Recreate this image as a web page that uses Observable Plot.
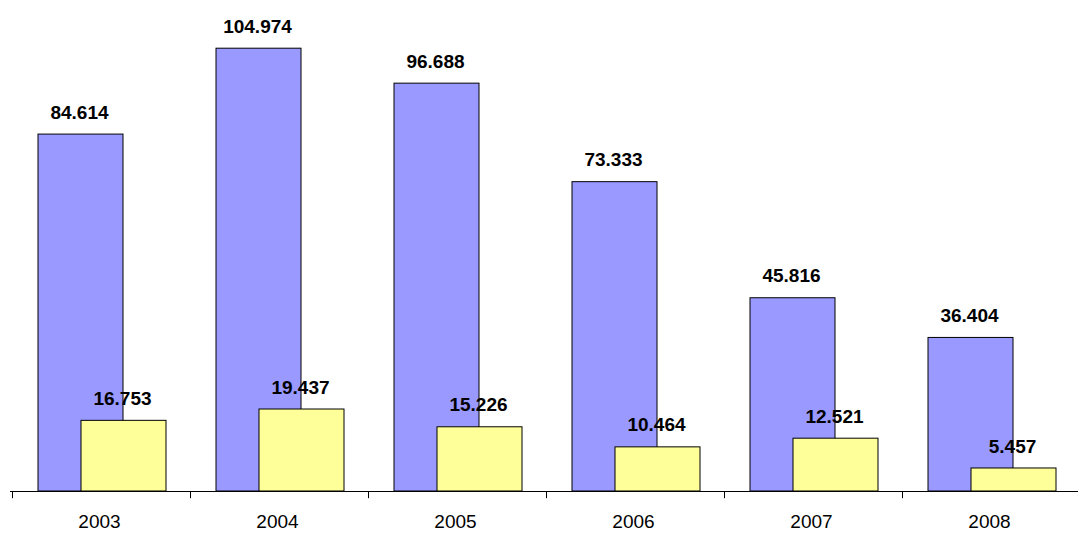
<!DOCTYPE html>
<html><head><meta charset="utf-8">
<script src="https://cdn.jsdelivr.net/npm/d3@7"></script>
<script src="https://cdn.jsdelivr.net/npm/@observablehq/plot@0.6"></script>
<style>body{margin:0;background:#fff;font-family:"Liberation Sans",Arial,sans-serif}</style>
</head><body><div id="chart"></div>
<script>
const years = ["2003","2004","2005","2006","2007","2008"]
const serieA = [84614, 104974, 96688, 73333, 45816, 36404]
const serieB = [16753, 19437, 15226, 10464, 12521, 5457]

const fmt = d3.formatLocale({decimal: ",", thousands: ".", grouping: [3]}).format(",d")
const dataA = years.map((y, i) => ({year: y, v: serieA[i]}))
const dataB = years.map((y, i) => ({year: y, v: serieB[i]}))
const W = 1078, mL = 10, mR = 0
const bw = (W - mL - mR) / years.length

const chart = Plot.plot({
  width: W, height: 534,
  marginLeft: mL, marginRight: mR, marginTop: 0, marginBottom: 43,
  style: {fontFamily: '"Liberation Sans", Arial, sans-serif', fontSize: "19px", background: "#fff"},
  x: {domain: years, padding: 0, label: null, tickSize: 0, tickPadding: 23},
  y: {domain: [0, 116400], axis: null},
  marks: [
    Plot.barY(dataA, {x: "year", y: "v", fill: "#9999ff", stroke: "#000", strokeWidth: 1,
      insetLeft: 28, insetRight: bw - 113}),
    Plot.barY(dataB, {x: "year", y: "v", fill: "#ffff99", stroke: "#000", strokeWidth: 1,
      insetLeft: 71, insetRight: bw - 156}),
    Plot.text(dataA, {x: "year", y: "v", text: d => fmt(d.v), dx: -20, dy: -22,
      fontWeight: "bold", fontSize: 19, fill: "#000"}),
    Plot.text(dataB, {x: "year", y: "v", text: d => fmt(d.v), dx: 23, dy: -22,
      fontWeight: "bold", fontSize: 19, fill: "#000"}),
    Plot.ruleY([0], {stroke: "#000"}),
    Plot.ruleX(years, {x: d => d, dx: -bw / 2 + 2, y1: 0, y2: -1700, stroke: "#000"})
  ]
})
document.getElementById("chart").append(chart)
</script></body></html>
